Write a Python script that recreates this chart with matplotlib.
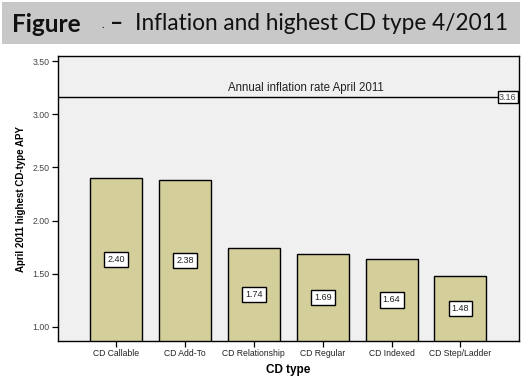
import matplotlib
matplotlib.use("Agg")
import matplotlib.pyplot as plt
from matplotlib.patches import Rectangle

categories = ["CD Callable", "CD Add-To", "CD Relationship", "CD Regular", "CD Indexed", "CD Step/Ladder"]
values = [2.40, 2.38, 1.74, 1.69, 1.64, 1.48]
inflation = 3.16
yticks = [1.00, 1.50, 2.00, 2.50, 3.00, 3.50]

W, H = 526, 379
fig = plt.figure(figsize=(W / 100, H / 100), dpi=100)
fig.patch.set_facecolor("white")

# header band
fig.patches.append(Rectangle((2 / W, (H - 44) / H), 518 / W, 42 / H,
                             transform=fig.transFigure, facecolor="#c8c8c8",
                             edgecolor="none", zorder=0))
fig.text(12 / W, (H - 24) / H, "Figure", fontsize=17.5, fontweight="bold",
         family="Lato", va="center", ha="left", color="#111111")
fig.text(101 / W, (H - 24) / H, ".", fontsize=8, family="Lato",
         va="center", ha="left", color="#111111")
fig.text(110 / W, (H - 24) / H, "\u2013", fontsize=16.5, fontweight="bold", family="Lato",
         va="center", ha="left", color="#111111")
fig.text(135 / W, (H - 24) / H, "Inflation and highest CD type 4/2011",
         fontsize=16.3, family="Lato", va="center", ha="left", color="#111111")

ax = fig.add_axes([58 / W, (H - 341) / H, 461 / W, 285 / H])
ax.set_facecolor("#f0f0f0")

x = list(range(len(categories)))
bottom_lim = 0.868
ax.bar(x, values, width=0.755, color="#d3ce9a", edgecolor="black", linewidth=1.0, zorder=2)
ax.set_xlim(-0.842, 5.85)
ax.set_ylim(bottom_lim, 3.547)

font = "Liberation Sans"
for xi, v in zip(x, values):
    ax.text(xi, (bottom_lim + v) / 2, f"{v:.2f}", ha="center", va="center",
            fontsize=6.5, family=font, color="#222222", zorder=3,
            bbox=dict(boxstyle="square,pad=0.35", facecolor="white", edgecolor="black", linewidth=1.0))

ax.axhline(inflation, color="black", linewidth=1.0, zorder=3)
ax.annotate("Annual inflation rate April 2011", xy=(2.75, inflation), xycoords="data",
            xytext=(0, 2), textcoords="offset points", ha="center", va="bottom",
            fontsize=8.3, family=font, color="#222222")
ax.annotate(f"{inflation:.2f}", xy=(1.0, inflation), xycoords=("axes fraction", "data"),
            xytext=(-1.8, 0), textcoords="offset points", ha="right", va="center",
            fontsize=6.5, family=font, color="#444444", zorder=4,
            bbox=dict(boxstyle="square,pad=0.15", facecolor="white", edgecolor="black", linewidth=1.0))

ax.set_yticks(yticks)
ax.set_yticklabels([f"{t:.2f}" for t in yticks], fontsize=6.3, family=font, color="#444444")
ax.set_xticks(x)
ax.set_xticklabels(categories, fontsize=6.2, family=font, color="#222222")
ax.tick_params(axis="both", length=4, width=0.9, color="black", pad=2)
for s in ax.spines.values():
    s.set_linewidth(1.0)
    s.set_color("black")

ax.set_xlabel("CD type", fontsize=8.5, fontweight="bold", family=font, labelpad=4)
ax.set_ylabel("April 2011 highest CD-type APY", fontsize=7, fontweight="bold", family=font, labelpad=5)

fig.savefig("out.png", dpi=100)
